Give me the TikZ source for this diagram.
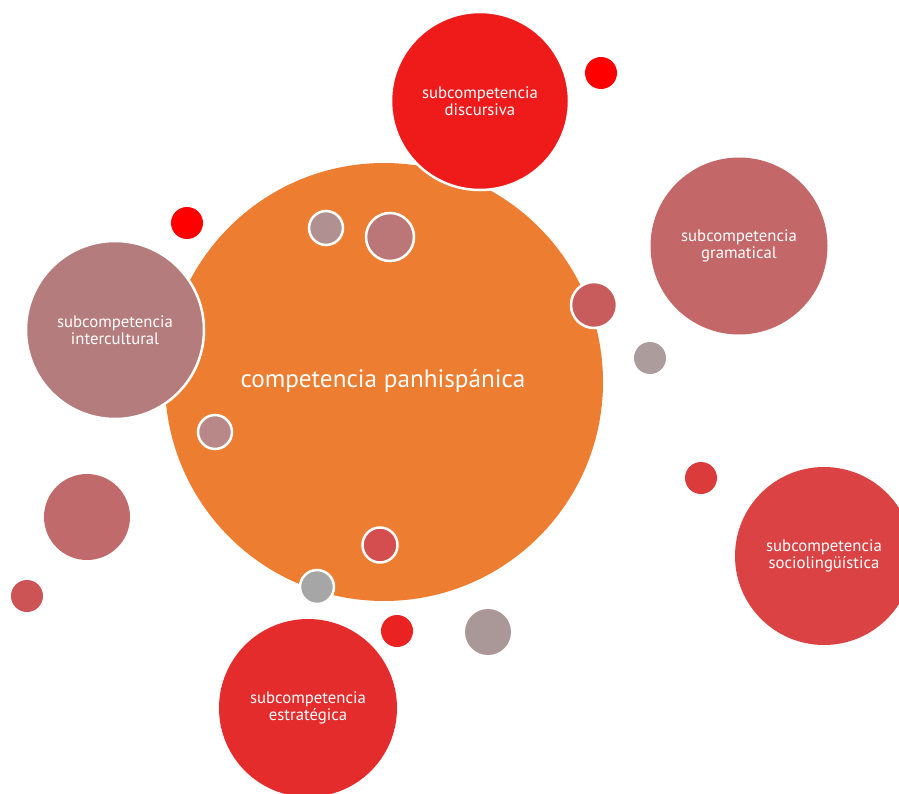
\documentclass[tikz,border=0pt]{standalone}
\usepackage{fontspec}
\setmainfont{PT Sans}
\definecolor{corange}{HTML}{ED7D31}
\definecolor{cdisc}{HTML}{EF1A1A}
\definecolor{cgram}{HTML}{C46768}
\definecolor{cinter}{HTML}{B47C7C}
\definecolor{csocio}{HTML}{DA4243}
\definecolor{cestr}{HTML}{E42C2D}
\definecolor{cpure}{HTML}{FF0000}
\definecolor{crose}{HTML}{C06A6B}
\definecolor{cdot}{HTML}{CD5455}
\definecolor{cred}{HTML}{EA2222}
\definecolor{ctaupe}{HTML}{AA9797}
\definecolor{cgrayr}{HTML}{AC9C9C}
\definecolor{credd}{HTML}{DC3B3B}
\definecolor{cmauve}{HTML}{B09090}
\definecolor{cdusk}{HTML}{BB7777}
\definecolor{ccoral}{HTML}{C85C5D}
\definecolor{cpink}{HTML}{B88888}
\definecolor{cberry}{HTML}{D44E4F}
\definecolor{cgray}{HTML}{A6A6A6}
\tikzset{
  disc/.style={circle, inner sep=0pt, outer sep=0pt, minimum size=#1},
  rim/.style={draw=white, line width=2.5pt},
  label/.style={text=white, align=center, font=\fontsize{16.7}{17}\selectfont},
}
\begin{document}
\begin{tikzpicture}[x=1pt, y=-1pt]
\useasboundingbox (0,0) rectangle (899,794);
% central circle
\node[disc=438pt, fill=corange] (core) at (384,382) {};
\node[text=white, font=\fontsize{25.2}{26}\selectfont] (coretext) at (383,381) {competencia panhispánica};
% satellite circles
\node[disc=178pt, fill=cdisc, rim, label] (discursiva) at (480,101) {subcompetencia\\discursiva};
\node[disc=177pt, fill=cgram, label] (gramatical) at (739,246) {subcompetencia\\gramatical};
\node[disc=178pt, fill=cinter, rim, label] (intercultural) at (115,330) {subcompetencia\\intercultural};
\node[disc=178pt, fill=csocio, label] (socio) at (824,556) {subcompetencia\\sociolingüística};
\node[disc=178pt, fill=cestr, label] (estrategica) at (308,708) {subcompetencia\\estratégica};
% free dots
\node[disc=32pt, fill=cpure] (d1) at (601,73) {};
\node[disc=32pt, fill=cpure] (d2) at (187,223) {};
\node[disc=86pt, fill=crose] (d3) at (87,517) {};
\node[disc=32pt, fill=cdot] (d4) at (27,596) {};
\node[disc=32pt, fill=cred] (d5) at (397,631) {};
\node[disc=46pt, fill=ctaupe] (d6) at (488,632) {};
\node[disc=32pt, fill=cgrayr] (d7) at (650,358) {};
\node[disc=32pt, fill=credd] (d8) at (701,478) {};
% rimmed dots on the central circle
\node[disc=34pt, fill=cmauve, rim] (r1) at (326,228) {};
\node[disc=48pt, fill=cdusk, rim] (r2) at (390,237) {};
\node[disc=46pt, fill=ccoral, rim] (r3) at (594,305) {};
\node[disc=34pt, fill=cpink, rim] (r4) at (215,432) {};
\node[disc=35pt, fill=cberry, rim] (r5) at (380,545) {};
\node[disc=34pt, fill=cgray, rim] (r6) at (317,587) {};
\end{tikzpicture}
\end{document}
